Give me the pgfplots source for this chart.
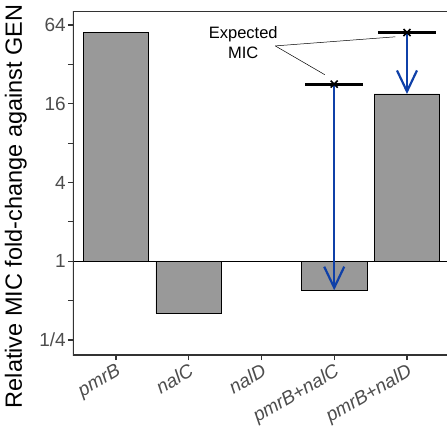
\documentclass[border=0pt]{standalone}
\usepackage{fontspec}
\setmainfont{Liberation Sans}
\setsansfont{Liberation Sans}
\usepackage{pgfplots}
\pgfplotsset{compat=1.18}
\usetikzlibrary{arrows.meta}
\definecolor{axiscol}{HTML}{333333}
\definecolor{labcol}{HTML}{4D4D4D}
\definecolor{barfill}{HTML}{999999}
\definecolor{arrowblue}{HTML}{0F40A8}

\begin{document}
\begin{tikzpicture}
\begin{axis}[
  at={(0,0)}, anchor=south west,
  scale only axis,
  width=374pt, height=344pt,
  xmin=-0.59, xmax=4.55,
  ymode=log, log basis y=2, log origin y=0,
  ymin=0.192, ymax=81.9,
  axis line style={draw=none},
  tick align=outside,
  xtick pos=bottom, ytick pos=left,
  major tick length=5pt,
  tick style={axiscol, line width=1.2pt},
  xtick={0,1,2,3,4},
  xticklabels={pmrB,nalC,nalD,pmrB+nalC,pmrB+nalD},
  ytick={0.25,0.5,1,2,4,8,16,32,64},
  yticklabels={1/4,,1,,4,,16,,64},
  yticklabel style={font=\fontsize{19}{21}\selectfont, text=labcol, inner sep=2pt},
  every x tick label/.append style={rotate=30, anchor=north east, inner sep=2pt,
    font=\fontsize{19}{21}\selectfont\itshape, text=labcol},
  ylabel={Relative MIC fold-change against GEN},
  every axis y label/.style={at={(axis description cs:-0.153,0.432)}, rotate=90, anchor=center,
    font=\fontsize{23.5}{26}\selectfont},
]
\addplot[ybar, bar width=0.9, fill=barfill, draw=black, line width=0.7pt]
  coordinates {(0,56) (1,0.4) (2,1) (3,0.6) (4,19)};
\addplot[black, line width=1.4pt] coordinates {(-0.59,1) (4.55,1)};
% expected MIC
\addplot[black, line width=2.8pt] coordinates {(2.6,22.6) (3.4,22.6)};
\addplot[black, line width=2.8pt] coordinates {(3.6,56) (4.4,56)};
\addplot[arrowblue, line width=2.2pt, -{Straight Barb[length=21pt, width=20pt]}]
  coordinates {(3,22.6) (3,0.6)};
\addplot[arrowblue, line width=2.2pt, -{Straight Barb[length=21pt, width=20pt]}]
  coordinates {(4,56) (4,19)};
\addplot[only marks, mark=x, mark size=5pt, black, line width=1.6pt]
  coordinates {(3,22.6) (4,56)};
\draw[black, line width=0.5pt] (axis cs:2.19,44.3) -- (axis cs:2.87,26.7);
\draw[black, line width=0.5pt] (axis cs:2.19,44.3) -- (axis cs:3.84,52);
\node[align=center, font=\fontsize{16.5}{20}\selectfont] at (axis cs:1.75,46.6) {Expected\\MIC};
\draw[axiscol, line width=1.6pt] (rel axis cs:1,1) -- (rel axis cs:0,1) -- (rel axis cs:0,0) -- (rel axis cs:1,0);
\end{axis}
\pgfresetboundingbox
\path (-73pt,-79pt) rectangle (374pt,355pt);
\end{tikzpicture}
\end{document}
